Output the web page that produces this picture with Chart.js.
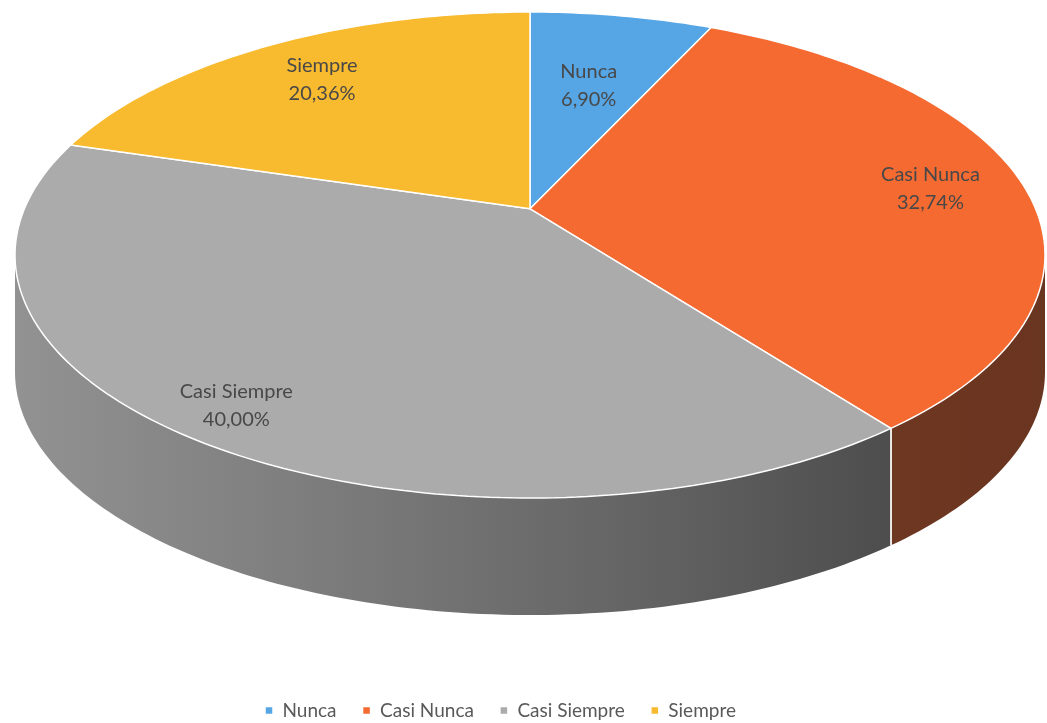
<!DOCTYPE html>
<html>
<head>
<meta charset="utf-8">
<script src="https://cdn.jsdelivr.net/npm/chart.js@4"></script>
<style>
  html, body { margin: 0; padding: 0; background: #ffffff; }
  #wrap { width: 1047px; height: 723px; }
</style>
</head>
<body>
<div id="wrap"><canvas id="c" width="1047" height="723"></canvas></div>
<script>
// ---- data ----
const categories = ['Nunca', 'Casi Nunca', 'Casi Siempre', 'Siempre'];
const values = [6.90, 32.74, 40.00, 20.36];

// ---- styles ----
const topColors = ['#56A5E5', '#F46A31', '#ABABAB', '#F8BA2E'];
const sideStops = [
  [[0, '#2f6a9a'], [1, '#2f6a9a']],
  [[0, '#7e4128'], [1, '#6a3520']],
  [[0, '#929292'], [0.3, '#7c7c7c'], [0.6, '#646464'], [0.84, '#4e4e4e'], [1, '#4e4e4e']],
  [[0, '#a07515'], [1, '#a07515']]
];
// perspective view of the pie: screen ellipse + tilt k
const view = { cx: 530, cy: 255, rx: 515, ry: 243, k: -0.19, depth: 117 };
const labelRadius = [0.60, 0.81, 0.88, 0.77];

function fmt(v) { return v.toFixed(2).replace('.', ',') + '%'; }

// unit-disk point -> screen (projective map keeping the rim on the ellipse)
function project(u, v) {
  const k = view.k, d = 1 + k * v;
  return [view.cx + view.rx * u * Math.sqrt(1 - k * k) / d,
          view.cy + view.ry * (v + k) / d];
}

function visibleRanges(s, e) {
  const t0 = Math.asin(-view.k), t1 = Math.PI - t0, out = [];
  for (let n = -2; n <= 2; n++) {
    const lo = Math.max(s, 2 * Math.PI * n + t0), hi = Math.min(e, 2 * Math.PI * n + t1);
    if (hi > lo) out.push([lo, hi]);
  }
  return out;
}

let saved = null;
const pie3d = {
  id: 'pie3d',
  beforeDatasetsDraw(chart) {
    const ctx = chart.ctx, V = view;
    const arcs = chart.getDatasetMeta(0).data;
    // side walls
    arcs.forEach((arc, i) => {
      visibleRanges(arc.startAngle, arc.endAngle).forEach(([a, b]) => {
        const n = Math.max(4, Math.ceil((b - a) * 180 / Math.PI));
        const top = [];
        for (let j = 0; j <= n; j++) {
          const t = a + (b - a) * j / n;
          top.push(project(Math.cos(t), Math.sin(t)));
        }
        const grad = ctx.createLinearGradient(V.cx - V.rx, 0, V.cx + V.rx, 0);
        sideStops[i].forEach(([o, c]) => grad.addColorStop(o, c));
        ctx.save();
        ctx.beginPath();
        top.forEach((p, j) => j ? ctx.lineTo(p[0], p[1]) : ctx.moveTo(p[0], p[1]));
        for (let j = top.length - 1; j >= 0; j--) ctx.lineTo(top[j][0], top[j][1] + V.depth);
        ctx.closePath();
        ctx.fillStyle = grad;
        ctx.fill();
        ctx.strokeStyle = '#ffffff';
        ctx.lineWidth = 1.5;
        ctx.beginPath();
        [[a, top[0]], [b, top[top.length - 1]]].forEach(([ang, p]) => {
          const edge = Math.abs(Math.sin(ang) + view.k) < 1e-6;
          if (!edge) { ctx.moveTo(p[0], p[1]); ctx.lineTo(p[0], p[1] + V.depth); }
        });
        ctx.stroke();
        ctx.restore();
      });
    });
    // project the library's own arc drawing onto the tilted disk
    const a0 = arcs[0];
    const X = a0.x, Y = a0.y, R = a0.outerRadius;
    const map = (x, y) => project((x - X) / R, (y - Y) / R);
    const proto = CanvasRenderingContext2D.prototype;
    saved = ctx;
    ctx.moveTo = function (x, y) { const p = map(x, y); proto.moveTo.call(this, p[0], p[1]); };
    ctx.lineTo = function (x, y) { const p = map(x, y); proto.lineTo.call(this, p[0], p[1]); };
    ctx.arc = function (x, y, r, s, e, ccw) {
      if (r <= 1e-6) { const p = map(x, y); proto.lineTo.call(this, p[0], p[1]); return; }
      const TAU = 2 * Math.PI;
      let d = e - s;
      if (!ccw) { d = d >= TAU ? TAU : ((d % TAU) + TAU) % TAU; }
      else { d = -d >= TAU ? -TAU : -((((-d) % TAU) + TAU) % TAU); }
      const n = Math.max(2, Math.ceil(Math.abs(d) * 180 / Math.PI));
      for (let j = 0; j <= n; j++) {
        const t = s + d * j / n;
        const p = map(x + r * Math.cos(t), y + r * Math.sin(t));
        proto.lineTo.call(this, p[0], p[1]);
      }
    };
  },
  afterDatasetsDraw(chart) {
    const ctx = chart.ctx;
    if (saved) { delete ctx.moveTo; delete ctx.lineTo; delete ctx.arc; saved = null; }
    const arcs = chart.getDatasetMeta(0).data;
    ctx.save();
    ctx.fillStyle = '#484848';
    ctx.font = '20px Lato';
    ctx.textAlign = 'center';
    ctx.textBaseline = 'middle';
    arcs.forEach((arc, i) => {
      const m = (arc.startAngle + arc.endAngle) / 2;
      const f = labelRadius[i];
      const [x, y] = project(f * Math.cos(m), f * Math.sin(m));
      ctx.fillText(categories[i], x, y - 14);
      ctx.fillText(fmt(values[i]), x, y + 14);
    });
    ctx.restore();
  }
};

Chart.defaults.font.family = 'Lato';
new Chart(document.getElementById('c'), {
  type: 'pie',
  data: {
    labels: categories,
    datasets: [{
      data: values,
      backgroundColor: topColors,
      borderColor: '#ffffff',
      borderWidth: 1.5,
      hoverOffset: 0,
      clip: false
    }]
  },
  options: {
    responsive: false,
    animation: false,
    layout: { padding: { bottom: -7, right: 46 } },
    plugins: {
      tooltip: { enabled: false },
      legend: {
        position: 'bottom',
        labels: {
          boxWidth: 8,
          boxHeight: 8,
          padding: 26,
          color: '#595959',
          font: { family: 'Lato', size: 19 }
        }
      }
    }
  },
  plugins: [pie3d]
});
</script>
</body>
</html>
